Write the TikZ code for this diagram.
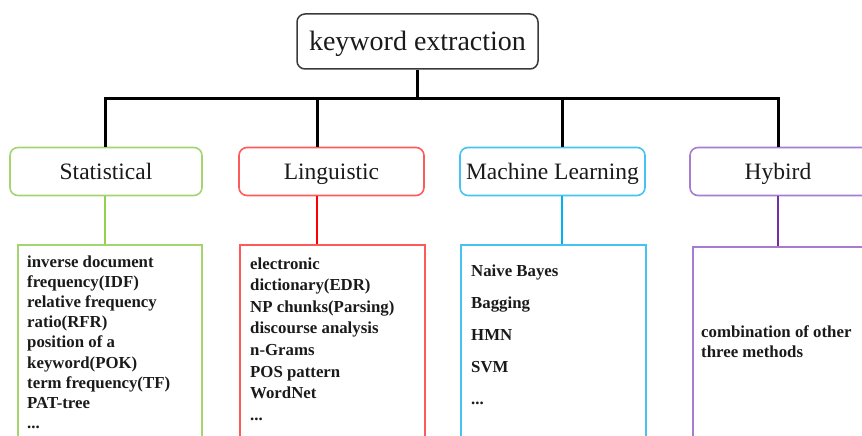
\documentclass[tikz,border=0pt]{standalone}
\usepackage{fontspec}
\setmainfont{Liberation Serif}
\definecolor{inkblack}{HTML}{1A1A1A}
\definecolor{rootedge}{HTML}{3A3A3A}
\definecolor{statbox}{HTML}{A2D56E}
\definecolor{statline}{HTML}{92D050}
\definecolor{lingbox}{HTML}{FF5A5A}
\definecolor{lingline}{HTML}{FF0000}
\definecolor{mlbox}{HTML}{45C3F2}
\definecolor{mlline}{HTML}{00B0F0}
\definecolor{hybbox}{HTML}{A57CCF}
\definecolor{hybline}{HTML}{7030A0}
\newcommand{\itemlist}[1]{\begin{tabular}[t]{@{}l@{}}#1\end{tabular}}
\begin{document}
\begin{tikzpicture}[x=1pt,y=-1pt,
  rootbox/.style={draw=rootedge, line width=1.5pt, rounded corners=8pt,
    minimum width=241pt, minimum height=55pt, inner sep=0pt,
    text height=20pt, text depth=2pt,
    text=inkblack, font=\fontsize{28}{30}\selectfont},
  catlabel/.style={text=inkblack, font=\fontsize{23.5}{26}\selectfont,
    text height=17pt, text depth=2pt},
  catbox/.style={catlabel, draw, line width=1.6pt, rounded corners=8pt,
    minimum height=48pt, inner sep=0pt},
  listbox/.style={draw, line width=1.5pt, inner sep=0pt,
    minimum height=206pt, anchor=north west},
  listtext/.style={anchor=base west, inner sep=0pt, text=inkblack},
  bus/.style={draw=black, line width=3pt, line join=miter},
  branch/.style={line width=2.6pt}
]
\clip (0,0) rectangle (862,436);

% root of the tree
\node[rootbox] (root) at (417.5,41.5) {keyword extraction};

% the four method families
\node[catbox, draw=statbox, minimum width=192pt] (stat) at (106,171.5) {Statistical};
\node[catbox, draw=lingbox, minimum width=185pt] (ling) at (331.5,171.5) {Linguistic};
\node[catbox, draw=mlbox, minimum width=185pt] (ml) at (552.5,171.5) {Machine Learning};
\node[catbox, draw=hybbox, minimum width=190pt] (hyb) at (785,171.5) {};
\node[catlabel, inner sep=0pt] (hybl) at (778,171.5) {Hybird};

% bus junctions
\coordinate (hub) at (417.5,98.5);
\coordinate (j1) at (105,98.5);
\coordinate (j2) at (317,98.5);
\coordinate (j3) at (562,98.5);
\coordinate (j4) at (778,98.5);

\draw[bus] (root.south) -- (hub);
\draw[bus] (j1 |- stat.north) -- (j1) -- (j4) -- (j4 |- hyb.north);
\draw[bus] (j2) -- (j2 |- ling.north);
\draw[bus] (j3) -- (j3 |- ml.north);

% detail boxes
\node[listbox, draw=statbox, minimum width=184pt] (statd) at (17,244) {};
\node[listbox, draw=lingbox, minimum width=185pt] (lingd) at (239,244) {};
\node[listbox, draw=mlbox, minimum width=185pt] (mld) at (460,244) {};
\node[listbox, draw=hybbox, minimum width=190pt] (hybd) at (692,246) {};

\draw[branch, statline] (stat.south -| j1) -- (statd.north -| j1);
\draw[branch, lingline] (ling.south -| j2) -- (lingd.north -| j2);
\draw[branch, mlline] (ml.south -| j3) -- (mld.north -| j3);
\draw[branch, hybline] (hyb.south -| j4) -- (hybd.north -| j4);

% contents of the detail boxes
\node[listtext, font=\fontsize{16.8}{20.2}\selectfont\bfseries] (statt) at (27,267)
  {\itemlist{inverse document\\ frequency(IDF)\\ relative frequency\\ ratio(RFR)\\
   position of a\\ keyword(POK)\\ term frequency(TF)\\ PAT-tree\\ ...}};
\node[listtext, font=\fontsize{16.8}{21.6}\selectfont\bfseries] (lingt) at (250,269)
  {\itemlist{electronic\\ dictionary(EDR)\\ NP chunks(Parsing)\\ discourse analysis\\
   n-Grams\\ POS pattern\\ WordNet\\ ...}};
\node[listtext, font=\fontsize{16.8}{32}\selectfont\bfseries] (mlt) at (471,276)
  {\itemlist{Naive Bayes\\ Bagging\\ HMN\\ SVM\\ ...}};
\node[listtext, font=\fontsize{16.8}{20}\selectfont\bfseries] (hybt) at (701,337)
  {\itemlist{combination of other\\ three methods}};
\end{tikzpicture}
\end{document}
